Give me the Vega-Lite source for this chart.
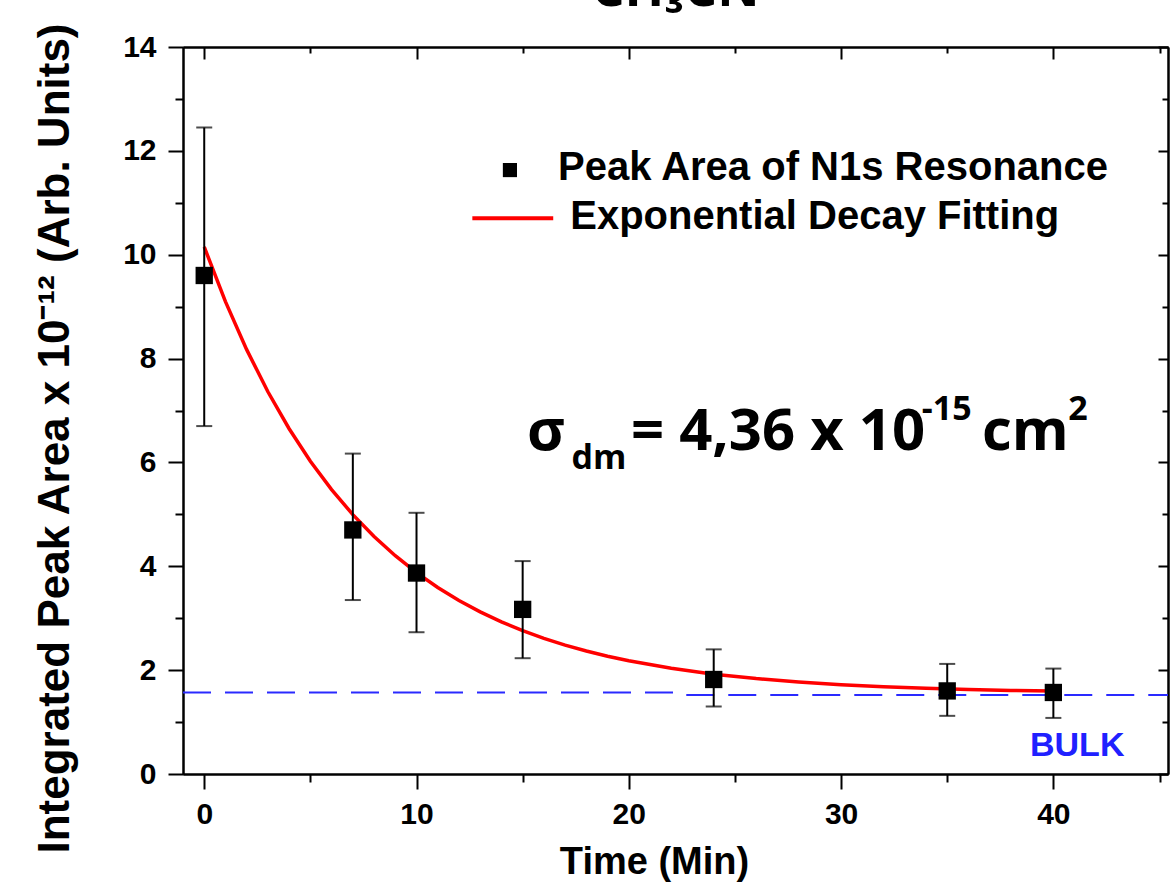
{
  "$schema": "https://vega.github.io/schema/vega-lite/v6.json",
  "width": 985,
  "height": 727,
  "autosize": {"type": "none"},
  "padding": {"left": 183, "top": 47, "right": 8, "bottom": 116},
  "background": "white",
  "title": {"text": "CH₃CN", "font": "Open Sans", "fontSize": 52, "fontWeight": "bold", "baseline": "alphabetic", "offset": -36, "frame": "group", "anchor": "middle", "color": "black"},
  "config": {
    "view": {"stroke": null},
    "axis": {"domainColor": "black", "domainWidth": 2, "tickColor": "black", "tickWidth": 2, "grid": false, "labelFont": "Liberation Sans", "labelFontWeight": "bold", "labelFontSize": 30, "labelColor": "black", "titleFont": "Liberation Sans", "titleFontWeight": "bold", "titleColor": "black"}
  },
  "datasets": {
    "points": [
      {"t": 0, "area": 9.6, "lo": 6.7, "hi": 12.45},
      {"t": 7, "area": 4.7, "lo": 3.35, "hi": 6.17},
      {"t": 10, "area": 3.87, "lo": 2.73, "hi": 5.03},
      {"t": 15, "area": 3.17, "lo": 2.23, "hi": 4.1},
      {"t": 24, "area": 1.82, "lo": 1.3, "hi": 2.4},
      {"t": 35, "area": 1.6, "lo": 1.12, "hi": 2.12},
      {"t": 40, "area": 1.57, "lo": 1.08, "hi": 2.03}
    ],
    "fit": [
      {"t": 0, "v": 10.15}, {"t": 1, "v": 9.097}, {"t": 2, "v": 8.172}, {"t": 3, "v": 7.361}, {"t": 4, "v": 6.649},
      {"t": 5, "v": 6.024}, {"t": 6, "v": 5.477}, {"t": 7, "v": 4.995}, {"t": 8, "v": 4.574}, {"t": 9, "v": 4.203},
      {"t": 10, "v": 3.878}, {"t": 11, "v": 3.593}, {"t": 12, "v": 3.342}, {"t": 13, "v": 3.123}, {"t": 14, "v": 2.93},
      {"t": 15, "v": 2.761}, {"t": 16, "v": 2.613}, {"t": 17, "v": 2.483}, {"t": 18, "v": 2.369}, {"t": 19, "v": 2.268},
      {"t": 20, "v": 2.18}, {"t": 22, "v": 2.035}, {"t": 24, "v": 1.923}, {"t": 26, "v": 1.837}, {"t": 28, "v": 1.771},
      {"t": 30, "v": 1.72}, {"t": 32, "v": 1.681}, {"t": 34, "v": 1.651}, {"t": 36, "v": 1.627}, {"t": 38, "v": 1.609},
      {"t": 40, "v": 1.596}
    ]
  },
  "layer": [
    {
      "data": {"values": [{"t": -1, "v": 1.57}, {"t": 22.4, "v": 1.57}, {"t": 22.6, "v": 1.52}, {"t": 45.4, "v": 1.52}]},
      "mark": {"type": "line", "color": "#2a2aff", "strokeWidth": 2, "strokeDash": [28, 14]},
      "encoding": {
        "x": {"field": "t", "type": "quantitative", "scale": {"domain": [-1, 45.4], "nice": false, "zero": false},
          "axis": {"orient": "bottom", "values": [0, 10, 20, 30, 40], "tickSize": 15, "labelPadding": 10, "title": "Time (Min)", "titleFontSize": 38, "titlePadding": 14, "titleX": 471}},
        "y": {"field": "v", "type": "quantitative", "scale": {"domain": [0, 14], "nice": false, "zero": false},
          "axis": {"orient": "left", "values": [0, 2, 4, 6, 8, 10, 12, 14], "tickSize": 15, "labelPadding": 12, "title": "Integrated Peak Area x 10⁻¹² (Arb. Units)", "titleFontSize": 44, "titlePadding": 45, "titleY": 391}}
      }
    },
    {
      "data": {"name": "fit"},
      "mark": {"type": "line", "color": "#ff0000", "strokeWidth": 3.5},
      "encoding": {
        "x": {"field": "t", "type": "quantitative", "scale": {"domain": [-1, 45.4], "nice": false, "zero": false},
          "axis": {"orient": "bottom", "values": [5, 15, 25, 35, 45], "tickSize": 8, "labels": false, "title": null}},
        "y": {"field": "v", "type": "quantitative", "scale": {"domain": [0, 14], "nice": false, "zero": false},
          "axis": {"orient": "left", "values": [1, 3, 5, 7, 9, 11, 13], "tickSize": 8, "labels": false, "title": null}}
      }
    },
    {
      "data": {"name": "points"},
      "mark": {"type": "rule", "color": "black", "strokeWidth": 2},
      "encoding": {
        "x": {"field": "t", "type": "quantitative", "scale": {"domain": [-1, 45.4], "nice": false, "zero": false},
          "axis": {"orient": "top", "values": [0, 10, 20, 30, 40], "tickSize": -12, "labels": false, "title": null}},
        "y": {"field": "lo", "type": "quantitative", "scale": {"domain": [0, 14], "nice": false, "zero": false},
          "axis": {"orient": "right", "values": [0, 2, 4, 6, 8, 10, 12, 14], "tickSize": -10, "labels": false, "title": null}},
        "y2": {"field": "hi"}
      }
    },
    {
      "data": {"name": "points"},
      "mark": {"type": "tick", "orient": "horizontal", "color": "black", "size": 16, "thickness": 2},
      "encoding": {
        "x": {"field": "t", "type": "quantitative", "scale": {"domain": [-1, 45.4], "nice": false, "zero": false}, "axis": null},
        "y": {"field": "lo", "type": "quantitative", "scale": {"domain": [0, 14], "nice": false, "zero": false}, "axis": null}
      }
    },
    {
      "data": {"name": "points"},
      "mark": {"type": "tick", "orient": "horizontal", "color": "black", "size": 16, "thickness": 2},
      "encoding": {
        "x": {"field": "t", "type": "quantitative", "scale": {"domain": [-1, 45.4], "nice": false, "zero": false}, "axis": null},
        "y": {"field": "hi", "type": "quantitative", "scale": {"domain": [0, 14], "nice": false, "zero": false}, "axis": null}
      }
    },
    {
      "data": {"name": "points"},
      "mark": {"type": "point", "shape": "square", "filled": true, "color": "black", "size": 300, "opacity": 1},
      "encoding": {
        "x": {"field": "t", "type": "quantitative", "scale": {"domain": [-1, 45.4], "nice": false, "zero": false},
          "axis": {"orient": "top", "values": [5, 15, 25, 35, 45], "tickSize": -6, "labels": false, "title": null}},
        "y": {"field": "area", "type": "quantitative", "scale": {"domain": [0, 14], "nice": false, "zero": false},
          "axis": {"orient": "right", "values": [1, 3, 5, 7, 9, 11, 13], "tickSize": -6, "labels": false, "title": null}}
      }
    },
    {
      "data": {"values": [{"lx": 14.4, "ly": 11.63}]},
      "mark": {"type": "point", "shape": "square", "filled": true, "color": "black", "size": 200, "opacity": 1},
      "encoding": {
        "x": {"field": "lx", "type": "quantitative", "scale": {"domain": [-1, 45.4], "nice": false, "zero": false}, "axis": null},
        "y": {"field": "ly", "type": "quantitative", "scale": {"domain": [0, 14], "nice": false, "zero": false}, "axis": null}
      }
    },
    {
      "data": {"values": [{"lx": 12.63, "ly": 10.7}, {"lx": 16.44, "ly": 10.7}]},
      "mark": {"type": "line", "color": "#ff0000", "strokeWidth": 4},
      "encoding": {
        "x": {"field": "lx", "type": "quantitative", "scale": {"domain": [-1, 45.4], "nice": false, "zero": false}, "axis": null},
        "y": {"field": "ly", "type": "quantitative", "scale": {"domain": [0, 14], "nice": false, "zero": false}, "axis": null}
      }
    },
    {
      "data": {"values": [{"lx": 16.67, "ly": 11.67, "label": "Peak Area of N1s Resonance"}, {"lx": 17.24, "ly": 10.72, "label": "Exponential Decay Fitting"}]},
      "mark": {"type": "text", "align": "left", "baseline": "middle", "font": "Liberation Sans", "fontWeight": "bold", "fontSize": 40, "color": "black"},
      "encoding": {
        "x": {"field": "lx", "type": "quantitative", "scale": {"domain": [-1, 45.4], "nice": false, "zero": false}, "axis": null},
        "y": {"field": "ly", "type": "quantitative", "scale": {"domain": [0, 14], "nice": false, "zero": false}, "axis": null},
        "text": {"field": "label"}
      }
    },
    {
      "data": {"values": [{"lx": 15.2, "ly": 6.23, "label": "σ"}, {"lx": 20.1, "ly": 6.23, "label": "= 4,36 x 10"}, {"lx": 36.64, "ly": 6.23, "label": "cm"}]},
      "mark": {"type": "text", "align": "left", "baseline": "alphabetic", "font": "Open Sans", "fontWeight": "bold", "fontSize": 58, "color": "black"},
      "encoding": {
        "x": {"field": "lx", "type": "quantitative", "scale": {"domain": [-1, 45.4], "nice": false, "zero": false}, "axis": null},
        "y": {"field": "ly", "type": "quantitative", "scale": {"domain": [0, 14], "nice": false, "zero": false}, "axis": null},
        "text": {"field": "label"}
      }
    },
    {
      "data": {"values": [{"lx": 17.3, "ly": 5.88, "label": "dm"}, {"lx": 33.8, "ly": 6.81, "label": "-15"}, {"lx": 40.7, "ly": 6.81, "label": "2"}]},
      "mark": {"type": "text", "align": "left", "baseline": "alphabetic", "font": "Open Sans", "fontWeight": "bold", "fontSize": 34, "color": "black"},
      "encoding": {
        "x": {"field": "lx", "type": "quantitative", "scale": {"domain": [-1, 45.4], "nice": false, "zero": false}, "axis": null},
        "y": {"field": "ly", "type": "quantitative", "scale": {"domain": [0, 14], "nice": false, "zero": false}, "axis": null},
        "text": {"field": "label"}
      }
    },
    {
      "data": {"values": [{"lx": 38.9, "ly": 0.54, "label": "BULK"}]},
      "mark": {"type": "text", "align": "left", "baseline": "middle", "font": "Liberation Sans", "fontWeight": "bold", "fontSize": 34, "color": "#2020ff"},
      "encoding": {
        "x": {"field": "lx", "type": "quantitative", "scale": {"domain": [-1, 45.4], "nice": false, "zero": false}, "axis": null},
        "y": {"field": "ly", "type": "quantitative", "scale": {"domain": [0, 14], "nice": false, "zero": false}, "axis": null},
        "text": {"field": "label"}
      }
    }
  ],
  "resolve": {"axis": {"x": "independent", "y": "independent"}}
}
